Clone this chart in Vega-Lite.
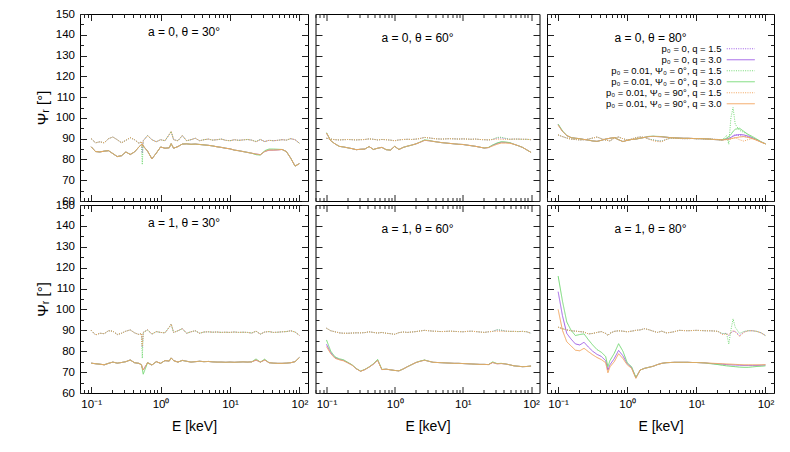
{
"$schema":"https://vega.github.io/schema/vega-lite/v6.json",
"background":"white",
"padding":{"left":34,"top":7,"right":5,"bottom":5},
"bounds":"flush",
"align":"each",
"columns":3,
"spacing":{"row":4,"column":7.5},
"resolve":{"scale":{"color":"independent","strokeDash":"independent"},"legend":{"color":"independent","strokeDash":"independent"}},
"config":{
 "font":"Liberation Sans",
 "view":{"stroke":"#000","strokeWidth":1},
 "axis":{"domain":false,"grid":false,"tickColor":"#222","tickWidth":1,"labelFont":"Liberation Sans","labelFontSize":11.5,"labelColor":"#000","titleFont":"Liberation Sans","titleFontSize":14,"titleFontWeight":"normal","titleColor":"#000","labelPadding":12,"labelOverlap":false,"labelFlush":false},
 "title":{"font":"Liberation Sans","fontSize":12,"fontWeight":"normal","color":"#000","offset":-31,"baseline":"alphabetic","dx":-10,"anchor":"middle","frame":"group"},
 "line":{"strokeWidth":1}
},
"datasets":{
"p1":[
{"E":0.1,"s1":90,"s2":86.1,"s3":90,"s4":86.1,"s5":90,"s6":86.1},
{"E":0.1155,"s1":88,"s2":83.8,"s3":88,"s4":83.8,"s5":88,"s6":83.8},
{"E":0.1334,"s1":88.5,"s2":83.6,"s3":88.5,"s4":83.6,"s5":88.5,"s6":83.6},
{"E":0.154,"s1":88,"s2":84,"s3":88,"s4":84,"s5":88,"s6":84},
{"E":0.1778,"s1":90,"s2":84.2,"s3":90,"s4":84.2,"s5":90,"s6":84.2},
{"E":0.2054,"s1":90.8,"s2":82.8,"s3":90.8,"s4":82.8,"s5":90.8,"s6":82.8},
{"E":0.2371,"s1":89.5,"s2":81.4,"s3":89.5,"s4":81.4,"s5":89.5,"s6":81.4},
{"E":0.2738,"s1":88,"s2":81.8,"s3":88,"s4":81.8,"s5":88,"s6":81.8},
{"E":0.3162,"s1":89.2,"s2":83.6,"s3":89.2,"s4":83.6,"s5":89.2,"s6":83.6},
{"E":0.3652,"s1":90.5,"s2":82.4,"s3":90.5,"s4":82.4,"s5":90.5,"s6":82.4},
{"E":0.4217,"s1":89.5,"s2":83.6,"s3":89.5,"s4":83.6,"s5":89.5,"s6":83.6},
{"E":0.487,"s1":87.8,"s2":86,"s3":87.8,"s4":86,"s5":87.8,"s6":86},
{"E":0.53,"s1":88.5,"s2":87.2,"s3":88.5,"s4":87.2,"s5":88.5,"s6":87.2},
{"E":0.545,"s1":83,"s2":87.4,"s3":77.5,"s4":86.8,"s5":86,"s6":87.4},
{"E":0.5623,"s1":89,"s2":86.5,"s3":89,"s4":86.5,"s5":89,"s6":86.5},
{"E":0.6494,"s1":91.5,"s2":84,"s3":91.5,"s4":84,"s5":91.5,"s6":84},
{"E":0.7499,"s1":89.5,"s2":80.3,"s3":89.5,"s4":80.3,"s5":89.5,"s6":80.3},
{"E":0.866,"s1":88.5,"s2":83,"s3":88.5,"s4":83,"s5":88.5,"s6":83},
{"E":1,"s1":89.5,"s2":86,"s3":89.5,"s4":86,"s5":89.5,"s6":86},
{"E":1.155,"s1":89,"s2":85.4,"s3":89,"s4":85.4,"s5":89,"s6":85.4},
{"E":1.334,"s1":92,"s2":85.6,"s3":92,"s4":85.6,"s5":92,"s6":85.6},
{"E":1.42,"s1":93.5,"s2":87.6,"s3":93.5,"s4":87.6,"s5":93.5,"s6":87.6},
{"E":1.54,"s1":89.5,"s2":85.4,"s3":89.5,"s4":85.4,"s5":89.5,"s6":85.4},
{"E":1.778,"s1":89,"s2":86.2,"s3":89,"s4":86.2,"s5":89,"s6":86.2},
{"E":2.054,"s1":91.5,"s2":87.4,"s3":91.5,"s4":87.4,"s5":91.5,"s6":87.4},
{"E":2.371,"s1":89,"s2":87.5,"s3":89,"s4":87.5,"s5":89,"s6":87.5},
{"E":2.738,"s1":89.5,"s2":87.3,"s3":89.5,"s4":87.3,"s5":89.5,"s6":87.3},
{"E":3.162,"s1":90.2,"s2":87.4,"s3":90.2,"s4":87.4,"s5":90.2,"s6":87.4},
{"E":3.652,"s1":89,"s2":87.2,"s3":89,"s4":87.2,"s5":89,"s6":87.2},
{"E":4.217,"s1":89.5,"s2":87,"s3":89.5,"s4":87,"s5":89.5,"s6":87},
{"E":4.87,"s1":89.8,"s2":86.8,"s3":89.8,"s4":86.8,"s5":89.8,"s6":86.8},
{"E":5.623,"s1":89.3,"s2":86.5,"s3":89.3,"s4":86.5,"s5":89.3,"s6":86.5},
{"E":6.494,"s1":89.5,"s2":86.1,"s3":89.5,"s4":86.1,"s5":89.5,"s6":86.1},
{"E":7.499,"s1":89.8,"s2":85.8,"s3":89.8,"s4":85.8,"s5":89.8,"s6":85.8},
{"E":8.66,"s1":89.2,"s2":85.4,"s3":89.2,"s4":85.4,"s5":89.2,"s6":85.4},
{"E":10,"s1":89,"s2":85.1,"s3":89,"s4":85.1,"s5":89,"s6":85.1},
{"E":11.55,"s1":89.5,"s2":84.5,"s3":89.5,"s4":84.5,"s5":89.5,"s6":84.5},
{"E":13.34,"s1":89.2,"s2":84.2,"s3":89.2,"s4":84.2,"s5":89.2,"s6":84.2},
{"E":15.4,"s1":89.4,"s2":83.8,"s3":89.4,"s4":83.8,"s5":89.4,"s6":83.8},
{"E":17.78,"s1":89.6,"s2":83.4,"s3":89.6,"s4":83.4,"s5":89.6,"s6":83.4},
{"E":20.54,"s1":89.3,"s2":83,"s3":89.3,"s4":83,"s5":89.3,"s6":83},
{"E":23.71,"s1":88.5,"s2":82.6,"s3":88.7,"s4":82.3,"s5":88.5,"s6":82.6},
{"E":27.38,"s1":89.6,"s2":82.3,"s3":89.6,"s4":82.1,"s5":89.6,"s6":82.3},
{"E":31.62,"s1":88.6,"s2":83.8,"s3":88.6,"s4":84.2,"s5":88.6,"s6":83.8},
{"E":36.52,"s1":89.2,"s2":84.5,"s3":89.2,"s4":85,"s5":89.2,"s6":84.5},
{"E":42.17,"s1":89,"s2":84.5,"s3":89,"s4":85,"s5":89,"s6":84.5},
{"E":48.7,"s1":89.2,"s2":84.6,"s3":89.2,"s4":84.9,"s5":89.2,"s6":84.6},
{"E":56.23,"s1":89.5,"s2":84.8,"s3":89.5,"s4":84.8,"s5":89.5,"s6":84.8},
{"E":64.94,"s1":89.3,"s2":83.8,"s3":89.3,"s4":83.8,"s5":89.3,"s6":83.8},
{"E":74.99,"s1":90,"s2":80.6,"s3":90,"s4":80.6,"s5":90,"s6":80.6},
{"E":86.6,"s1":89.5,"s2":76.8,"s3":89.5,"s4":76.8,"s5":89.5,"s6":76.8},
{"E":100,"s1":87.8,"s2":78,"s3":87.8,"s4":78,"s5":87.8,"s6":78}
],
"p2":[
{"E":0.1,"s1":90.2,"s2":92.7,"s3":90.2,"s4":92.9,"s5":90.2,"s6":92.7},
{"E":0.1155,"s1":89.8,"s2":89,"s3":89.8,"s4":89,"s5":89.8,"s6":89},
{"E":0.1334,"s1":89.5,"s2":87.5,"s3":89.5,"s4":87.5,"s5":89.5,"s6":87.5},
{"E":0.154,"s1":89.4,"s2":86.3,"s3":89.4,"s4":86.3,"s5":89.4,"s6":86.3},
{"E":0.1778,"s1":89.5,"s2":86,"s3":89.5,"s4":86,"s5":89.5,"s6":86},
{"E":0.2054,"s1":89.6,"s2":85.6,"s3":89.6,"s4":85.6,"s5":89.6,"s6":85.6},
{"E":0.2371,"s1":89.5,"s2":85.2,"s3":89.5,"s4":85.2,"s5":89.5,"s6":85.2},
{"E":0.2738,"s1":89.4,"s2":84.7,"s3":89.4,"s4":84.7,"s5":89.4,"s6":84.7},
{"E":0.3162,"s1":89.5,"s2":84.9,"s3":89.5,"s4":84.9,"s5":89.5,"s6":84.9},
{"E":0.3652,"s1":89.6,"s2":85,"s3":89.6,"s4":85,"s5":89.6,"s6":85},
{"E":0.4217,"s1":89.9,"s2":86.2,"s3":89.9,"s4":86.2,"s5":89.9,"s6":86.2},
{"E":0.487,"s1":89.7,"s2":84.8,"s3":89.7,"s4":84.8,"s5":89.7,"s6":84.8},
{"E":0.5623,"s1":89.4,"s2":85.4,"s3":89.4,"s4":85.4,"s5":89.4,"s6":85.4},
{"E":0.6494,"s1":89.6,"s2":85.8,"s3":89.6,"s4":85.8,"s5":89.6,"s6":85.8},
{"E":0.7499,"s1":89.5,"s2":84.7,"s3":89.5,"s4":84.7,"s5":89.5,"s6":84.7},
{"E":0.866,"s1":89.3,"s2":84.5,"s3":89.3,"s4":84.5,"s5":89.3,"s6":84.5},
{"E":1,"s1":89,"s2":86.3,"s3":89,"s4":86.3,"s5":89,"s6":86.3},
{"E":1.155,"s1":89.4,"s2":84.8,"s3":89.4,"s4":84.8,"s5":89.4,"s6":84.8},
{"E":1.334,"s1":89.6,"s2":85.8,"s3":89.6,"s4":85.8,"s5":89.6,"s6":85.8},
{"E":1.54,"s1":89.7,"s2":86.4,"s3":89.7,"s4":86.4,"s5":89.7,"s6":86.4},
{"E":1.778,"s1":89.6,"s2":86.9,"s3":89.6,"s4":86.9,"s5":89.6,"s6":86.9},
{"E":2.054,"s1":89.8,"s2":87.5,"s3":89.8,"s4":87.5,"s5":89.8,"s6":87.5},
{"E":2.371,"s1":90.1,"s2":88.3,"s3":90.1,"s4":88.4,"s5":90.1,"s6":88.3},
{"E":2.738,"s1":90.6,"s2":89.2,"s3":90.6,"s4":89.4,"s5":90.6,"s6":89.2},
{"E":3.162,"s1":90.4,"s2":89,"s3":90.4,"s4":89.2,"s5":90.4,"s6":89},
{"E":3.652,"s1":90.1,"s2":88.7,"s3":90.1,"s4":88.7,"s5":90.1,"s6":88.7},
{"E":4.217,"s1":89.9,"s2":88.4,"s3":89.9,"s4":88.4,"s5":89.9,"s6":88.4},
{"E":4.87,"s1":89.8,"s2":88.1,"s3":89.8,"s4":88.1,"s5":89.8,"s6":88.1},
{"E":5.623,"s1":89.9,"s2":87.9,"s3":89.9,"s4":87.9,"s5":89.9,"s6":87.9},
{"E":6.494,"s1":90,"s2":87.7,"s3":90,"s4":87.7,"s5":90,"s6":87.7},
{"E":7.499,"s1":89.9,"s2":87.5,"s3":89.9,"s4":87.5,"s5":89.9,"s6":87.5},
{"E":8.66,"s1":89.8,"s2":87.3,"s3":89.8,"s4":87.3,"s5":89.8,"s6":87.3},
{"E":10,"s1":89.9,"s2":87.2,"s3":89.9,"s4":87.2,"s5":89.9,"s6":87.2},
{"E":11.55,"s1":89.8,"s2":86.9,"s3":89.8,"s4":86.9,"s5":89.8,"s6":86.9},
{"E":13.34,"s1":89.7,"s2":86.6,"s3":89.7,"s4":86.6,"s5":89.7,"s6":86.6},
{"E":15.4,"s1":89.8,"s2":86.3,"s3":89.8,"s4":86.3,"s5":89.8,"s6":86.3},
{"E":17.78,"s1":89.6,"s2":85.9,"s3":89.6,"s4":85.9,"s5":89.6,"s6":85.9},
{"E":20.54,"s1":89.5,"s2":85.5,"s3":89.5,"s4":85.5,"s5":89.5,"s6":85.5},
{"E":23.71,"s1":89.4,"s2":85.7,"s3":89.4,"s4":85.8,"s5":89.4,"s6":85.7},
{"E":27.38,"s1":89.6,"s2":86.8,"s3":89.7,"s4":87,"s5":89.6,"s6":86.5},
{"E":31.62,"s1":90.3,"s2":87.7,"s3":90.6,"s4":87.9,"s5":89.8,"s6":87.3},
{"E":36.52,"s1":90.4,"s2":88.3,"s3":90.7,"s4":88.5,"s5":89.7,"s6":87.9},
{"E":42.17,"s1":90,"s2":88.2,"s3":90.2,"s4":88.4,"s5":89.6,"s6":87.9},
{"E":48.7,"s1":89.7,"s2":88,"s3":89.7,"s4":88.1,"s5":89.7,"s6":87.8},
{"E":56.23,"s1":89.8,"s2":87.3,"s3":89.8,"s4":87.3,"s5":89.8,"s6":87.3},
{"E":64.94,"s1":89.8,"s2":86.6,"s3":89.8,"s4":86.6,"s5":89.8,"s6":86.6},
{"E":74.99,"s1":89.7,"s2":85.8,"s3":89.7,"s4":85.8,"s5":89.7,"s6":85.8},
{"E":86.6,"s1":89.7,"s2":84.6,"s3":89.7,"s4":84.6,"s5":89.7,"s6":84.6},
{"E":100,"s1":89.5,"s2":83.4,"s3":89.5,"s4":83.4,"s5":89.5,"s6":83.4}
],
"p3":[
{"E":0.1,"s1":91.8,"s2":96.8,"s3":91.8,"s4":97,"s5":91.8,"s6":96.5},
{"E":0.1155,"s1":91,"s2":93.5,"s3":91,"s4":93.8,"s5":91,"s6":93.5},
{"E":0.1334,"s1":90.3,"s2":91.5,"s3":90.3,"s4":91.5,"s5":90.3,"s6":91.5},
{"E":0.154,"s1":89.8,"s2":90.5,"s3":89.8,"s4":90.5,"s5":89.8,"s6":90.5},
{"E":0.1778,"s1":89.6,"s2":90.2,"s3":89.6,"s4":90.2,"s5":89.6,"s6":90.2},
{"E":0.2054,"s1":89.4,"s2":90,"s3":89.4,"s4":90,"s5":89.4,"s6":90},
{"E":0.2371,"s1":89.5,"s2":89.6,"s3":89.5,"s4":89.6,"s5":89.5,"s6":89.6},
{"E":0.2738,"s1":89.8,"s2":89.3,"s3":89.8,"s4":89.3,"s5":89.8,"s6":89.3},
{"E":0.3162,"s1":90.3,"s2":88.9,"s3":90.3,"s4":88.9,"s5":90.3,"s6":88.9},
{"E":0.3652,"s1":90.8,"s2":88.7,"s3":90.8,"s4":88.7,"s5":90.8,"s6":88.7},
{"E":0.4217,"s1":90,"s2":89.2,"s3":90,"s4":89.2,"s5":90,"s6":89.2},
{"E":0.487,"s1":89.3,"s2":89.8,"s3":89.3,"s4":89.8,"s5":89.3,"s6":89.8},
{"E":0.5623,"s1":88.9,"s2":90.2,"s3":88.9,"s4":90.2,"s5":88.9,"s6":90.2},
{"E":0.6494,"s1":90.3,"s2":90.5,"s3":90.3,"s4":90.5,"s5":90.3,"s6":90.5},
{"E":0.7499,"s1":90.8,"s2":89.5,"s3":90.8,"s4":89.5,"s5":90.8,"s6":89.5},
{"E":0.866,"s1":90,"s2":88.6,"s3":90,"s4":88.6,"s5":90,"s6":88.6},
{"E":1,"s1":89.3,"s2":89.2,"s3":89.3,"s4":89.2,"s5":89.3,"s6":89.2},
{"E":1.155,"s1":89.8,"s2":89.6,"s3":89.8,"s4":89.6,"s5":89.8,"s6":89.6},
{"E":1.334,"s1":90.5,"s2":89.8,"s3":90.5,"s4":89.8,"s5":90.5,"s6":89.8},
{"E":1.54,"s1":90.8,"s2":90.2,"s3":90.8,"s4":90.2,"s5":90.8,"s6":90.2},
{"E":1.778,"s1":90.6,"s2":90.6,"s3":90.6,"s4":90.6,"s5":90.6,"s6":90.6},
{"E":2.054,"s1":89.8,"s2":91,"s3":89.8,"s4":91.1,"s5":89.8,"s6":91},
{"E":2.371,"s1":89.4,"s2":91.1,"s3":89.4,"s4":91.2,"s5":89,"s6":91.1},
{"E":2.738,"s1":89,"s2":91,"s3":89,"s4":91.1,"s5":88.6,"s6":91},
{"E":3.162,"s1":88.8,"s2":90.9,"s3":88.8,"s4":91,"s5":88.5,"s6":90.9},
{"E":3.652,"s1":89.6,"s2":90.7,"s3":89.6,"s4":90.7,"s5":89.6,"s6":90.7},
{"E":4.217,"s1":90.3,"s2":90.5,"s3":90.3,"s4":90.5,"s5":90.3,"s6":90.5},
{"E":4.87,"s1":90.2,"s2":90.4,"s3":90.2,"s4":90.4,"s5":90.2,"s6":90.4},
{"E":5.623,"s1":90.1,"s2":90.3,"s3":90.1,"s4":90.3,"s5":90.1,"s6":90.3},
{"E":6.494,"s1":90,"s2":90.2,"s3":90,"s4":90.2,"s5":90,"s6":90.2},
{"E":7.499,"s1":90,"s2":90.2,"s3":90,"s4":90.2,"s5":90,"s6":90.2},
{"E":8.66,"s1":90.1,"s2":90.1,"s3":90.1,"s4":90.1,"s5":90.1,"s6":90.1},
{"E":10,"s1":90,"s2":90,"s3":90,"s4":90,"s5":90,"s6":90},
{"E":11.55,"s1":90,"s2":90,"s3":90,"s4":90,"s5":90,"s6":90},
{"E":13.34,"s1":89.9,"s2":89.9,"s3":89.9,"s4":89.9,"s5":89.9,"s6":89.9},
{"E":15.4,"s1":89.8,"s2":89.8,"s3":89.8,"s4":89.8,"s5":89.8,"s6":89.8},
{"E":17.78,"s1":89.7,"s2":89.6,"s3":89.7,"s4":89.6,"s5":89.7,"s6":89.6},
{"E":20.54,"s1":89.6,"s2":89.5,"s3":89.6,"s4":89.5,"s5":89.6,"s6":89.5},
{"E":23.71,"s1":89.4,"s2":89.4,"s3":89.4,"s4":89.4,"s5":89.4,"s6":89.4},
{"E":27.38,"s1":89.8,"s2":89.8,"s3":91.5,"s4":90.2,"s5":89.5,"s6":89.6},
{"E":29.5,"s1":89.8,"s2":90.2,"s3":87.3,"s4":91,"s5":89.5,"s6":89.8},
{"E":31.62,"s1":90.5,"s2":90.6,"s3":100,"s4":92,"s5":89.8,"s6":90},
{"E":34,"s1":91.5,"s2":91.2,"s3":105,"s4":93.5,"s5":90.3,"s6":90.2},
{"E":36.52,"s1":92,"s2":91.6,"s3":97,"s4":94.5,"s5":90.5,"s6":90.4},
{"E":42.17,"s1":91.5,"s2":92,"s3":94,"s4":95,"s5":89.5,"s6":90.8},
{"E":48.7,"s1":91,"s2":91.8,"s3":93,"s4":93.5,"s5":88.8,"s6":91},
{"E":56.23,"s1":90.8,"s2":91.2,"s3":92,"s4":92,"s5":89.6,"s6":90.6},
{"E":64.94,"s1":90.2,"s2":90.4,"s3":90.5,"s4":91,"s5":90,"s6":90},
{"E":74.99,"s1":89.5,"s2":89.5,"s3":89.5,"s4":89.8,"s5":89.3,"s6":89.2},
{"E":86.6,"s1":88.5,"s2":88.4,"s3":88.5,"s4":88.5,"s5":88.4,"s6":88.3},
{"E":100,"s1":87.5,"s2":87.5,"s3":87.5,"s4":87.5,"s5":87.5,"s6":87.5}
],
"p4":[
{"E":0.1,"s1":90,"s2":74.3,"s3":90,"s4":74.3,"s5":90,"s6":74.3},
{"E":0.1155,"s1":87.8,"s2":74,"s3":87.8,"s4":74,"s5":87.8,"s6":74},
{"E":0.1334,"s1":88.6,"s2":73.8,"s3":88.6,"s4":73.8,"s5":88.6,"s6":73.8},
{"E":0.154,"s1":88.4,"s2":73.5,"s3":88.4,"s4":73.5,"s5":88.4,"s6":73.5},
{"E":0.1778,"s1":89.8,"s2":74.2,"s3":89.8,"s4":74.2,"s5":89.8,"s6":74.2},
{"E":0.2054,"s1":89.6,"s2":74.8,"s3":89.6,"s4":74.8,"s5":89.6,"s6":74.8},
{"E":0.2371,"s1":88,"s2":74.3,"s3":88,"s4":74.3,"s5":88,"s6":74.3},
{"E":0.2738,"s1":88.6,"s2":74.6,"s3":88.6,"s4":74.6,"s5":88.6,"s6":74.6},
{"E":0.3162,"s1":89.6,"s2":75,"s3":89.6,"s4":75,"s5":89.6,"s6":75},
{"E":0.3652,"s1":90.2,"s2":75.8,"s3":90.2,"s4":75.8,"s5":90.2,"s6":75.8},
{"E":0.4217,"s1":88.8,"s2":74.5,"s3":88.8,"s4":74.5,"s5":88.8,"s6":74.5},
{"E":0.487,"s1":88,"s2":74.2,"s3":88,"s4":74.2,"s5":88,"s6":74.2},
{"E":0.53,"s1":88.5,"s2":73.5,"s3":88.5,"s4":73.5,"s5":88.5,"s6":73.5},
{"E":0.545,"s1":82,"s2":72,"s3":76.6,"s4":71.5,"s5":82.5,"s6":72},
{"E":0.5623,"s1":89,"s2":71,"s3":89,"s4":69,"s5":89,"s6":71},
{"E":0.6494,"s1":90.2,"s2":74.5,"s3":90.2,"s4":74.5,"s5":90.2,"s6":74.5},
{"E":0.7499,"s1":88.2,"s2":73.4,"s3":88.2,"s4":73.4,"s5":88.2,"s6":73.4},
{"E":0.866,"s1":89.4,"s2":75,"s3":89.4,"s4":75,"s5":89.4,"s6":75},
{"E":1,"s1":89,"s2":74.2,"s3":89,"s4":74.2,"s5":89,"s6":74.2},
{"E":1.155,"s1":88.8,"s2":75.5,"s3":88.8,"s4":75.5,"s5":88.8,"s6":75.5},
{"E":1.334,"s1":91.5,"s2":75.3,"s3":91.5,"s4":75.3,"s5":91.5,"s6":75.3},
{"E":1.42,"s1":93,"s2":76.8,"s3":93,"s4":76.8,"s5":93,"s6":76.8},
{"E":1.54,"s1":89,"s2":75.5,"s3":89,"s4":75.5,"s5":89,"s6":75.5},
{"E":1.778,"s1":89.8,"s2":74.8,"s3":89.8,"s4":74.8,"s5":89.8,"s6":74.8},
{"E":2.054,"s1":90.8,"s2":75.6,"s3":90.8,"s4":75.6,"s5":90.8,"s6":75.6},
{"E":2.371,"s1":88.6,"s2":75.2,"s3":88.6,"s4":75.2,"s5":88.6,"s6":75.2},
{"E":2.738,"s1":89.3,"s2":74.8,"s3":89.3,"s4":74.8,"s5":89.3,"s6":74.8},
{"E":3.162,"s1":89.8,"s2":75,"s3":89.8,"s4":75,"s5":89.8,"s6":75},
{"E":3.652,"s1":88.6,"s2":75.2,"s3":88.6,"s4":75.2,"s5":88.6,"s6":75.2},
{"E":4.217,"s1":89.2,"s2":75,"s3":89.2,"s4":75,"s5":89.2,"s6":75},
{"E":4.87,"s1":89.3,"s2":75.1,"s3":89.3,"s4":75.1,"s5":89.3,"s6":75.1},
{"E":5.623,"s1":89.1,"s2":74.9,"s3":89.1,"s4":74.9,"s5":89.1,"s6":74.9},
{"E":6.494,"s1":89.2,"s2":74.8,"s3":89.2,"s4":74.8,"s5":89.2,"s6":74.8},
{"E":7.499,"s1":89,"s2":74.8,"s3":89,"s4":74.8,"s5":89,"s6":74.8},
{"E":8.66,"s1":89.1,"s2":74.7,"s3":89.1,"s4":74.7,"s5":89.1,"s6":74.7},
{"E":10,"s1":89,"s2":74.8,"s3":89,"s4":74.8,"s5":89,"s6":74.8},
{"E":11.55,"s1":89.2,"s2":74.7,"s3":89.2,"s4":74.7,"s5":89.2,"s6":74.7},
{"E":13.34,"s1":89,"s2":74.8,"s3":89,"s4":74.8,"s5":89,"s6":74.8},
{"E":15.4,"s1":89.1,"s2":74.9,"s3":89.1,"s4":74.9,"s5":89.1,"s6":74.9},
{"E":17.78,"s1":89,"s2":74.8,"s3":89,"s4":74.8,"s5":89,"s6":74.8},
{"E":20.54,"s1":88.7,"s2":74.9,"s3":88.7,"s4":74.9,"s5":88.7,"s6":74.9},
{"E":23.71,"s1":89.6,"s2":75.8,"s3":89.6,"s4":76.3,"s5":89.6,"s6":75.8},
{"E":27.38,"s1":88.2,"s2":74.8,"s3":88.2,"s4":74.8,"s5":88.2,"s6":74.8},
{"E":31.62,"s1":89.2,"s2":75.8,"s3":89.2,"s4":76.2,"s5":89.2,"s6":75.8},
{"E":36.52,"s1":89.4,"s2":74.5,"s3":89.4,"s4":74.5,"s5":89.4,"s6":74.5},
{"E":42.17,"s1":89,"s2":74.3,"s3":89,"s4":74.3,"s5":89,"s6":74.3},
{"E":48.7,"s1":89.1,"s2":74.2,"s3":89.1,"s4":74.2,"s5":89.1,"s6":74.2},
{"E":56.23,"s1":89.3,"s2":74.2,"s3":89.3,"s4":74.2,"s5":89.3,"s6":74.2},
{"E":64.94,"s1":89.4,"s2":74.3,"s3":89.4,"s4":74.3,"s5":89.4,"s6":74.3},
{"E":74.99,"s1":89.8,"s2":74.5,"s3":89.8,"s4":74.5,"s5":89.8,"s6":74.5},
{"E":86.6,"s1":89.2,"s2":75,"s3":89.2,"s4":75,"s5":89.2,"s6":75},
{"E":100,"s1":87.6,"s2":77,"s3":87.6,"s4":77,"s5":87.6,"s6":77}
],
"p5":[
{"E":0.1,"s1":91,"s2":83.3,"s3":91,"s4":85.4,"s5":91,"s6":82.2},
{"E":0.1155,"s1":89.8,"s2":79.3,"s3":89.8,"s4":80,"s5":89.8,"s6":78.8},
{"E":0.1334,"s1":89.3,"s2":76.9,"s3":89.3,"s4":77.3,"s5":89.3,"s6":76.6},
{"E":0.154,"s1":88.8,"s2":76.1,"s3":88.8,"s4":76.4,"s5":88.8,"s6":75.9},
{"E":0.1778,"s1":88.6,"s2":75.6,"s3":88.6,"s4":75.9,"s5":88.6,"s6":75.4},
{"E":0.2054,"s1":88.6,"s2":74.5,"s3":88.6,"s4":74.7,"s5":88.6,"s6":74.4},
{"E":0.2371,"s1":88.7,"s2":73.4,"s3":88.7,"s4":73.5,"s5":88.7,"s6":73.3},
{"E":0.2738,"s1":88.8,"s2":71.6,"s3":88.8,"s4":71.7,"s5":88.8,"s6":71.6},
{"E":0.3162,"s1":88.8,"s2":70.4,"s3":88.8,"s4":70.5,"s5":88.8,"s6":70.4},
{"E":0.3652,"s1":88.9,"s2":71.2,"s3":88.9,"s4":71.3,"s5":88.9,"s6":71.2},
{"E":0.4217,"s1":89.3,"s2":72.4,"s3":89.3,"s4":72.5,"s5":89.3,"s6":72.4},
{"E":0.487,"s1":89,"s2":73.8,"s3":89,"s4":74,"s5":89,"s6":73.8},
{"E":0.5623,"s1":88.7,"s2":75.7,"s3":88.7,"s4":76.1,"s5":88.7,"s6":75.6},
{"E":0.6494,"s1":89,"s2":71.2,"s3":89,"s4":71.3,"s5":89,"s6":71.2},
{"E":0.7499,"s1":88.6,"s2":71.4,"s3":88.6,"s4":71.4,"s5":88.6,"s6":71.4},
{"E":0.866,"s1":88.4,"s2":71.1,"s3":88.4,"s4":71.1,"s5":88.4,"s6":71.1},
{"E":1,"s1":88.1,"s2":70.8,"s3":88.1,"s4":70.8,"s5":88.1,"s6":70.8},
{"E":1.155,"s1":88.9,"s2":70.6,"s3":88.9,"s4":70.6,"s5":88.9,"s6":70.6},
{"E":1.334,"s1":89.2,"s2":71.5,"s3":89.2,"s4":71.5,"s5":89.2,"s6":71.5},
{"E":1.54,"s1":89,"s2":72.6,"s3":89,"s4":72.6,"s5":89,"s6":72.6},
{"E":1.778,"s1":89.2,"s2":73.6,"s3":89.2,"s4":73.6,"s5":89.2,"s6":73.6},
{"E":2.054,"s1":89.4,"s2":74.6,"s3":89.4,"s4":74.6,"s5":89.4,"s6":74.6},
{"E":2.371,"s1":89.7,"s2":75.2,"s3":89.7,"s4":75.3,"s5":89.7,"s6":75.2},
{"E":2.738,"s1":90,"s2":75.7,"s3":90,"s4":75.8,"s5":90,"s6":75.7},
{"E":3.162,"s1":89.8,"s2":75.2,"s3":89.8,"s4":75.2,"s5":89.8,"s6":75.2},
{"E":3.652,"s1":89.6,"s2":74.7,"s3":89.6,"s4":74.7,"s5":89.6,"s6":74.7},
{"E":4.217,"s1":89.5,"s2":74.6,"s3":89.5,"s4":74.6,"s5":89.5,"s6":74.6},
{"E":4.87,"s1":89.4,"s2":74.5,"s3":89.4,"s4":74.5,"s5":89.4,"s6":74.5},
{"E":5.623,"s1":89.5,"s2":74.4,"s3":89.5,"s4":74.4,"s5":89.5,"s6":74.4},
{"E":6.494,"s1":89.6,"s2":74.3,"s3":89.6,"s4":74.3,"s5":89.6,"s6":74.3},
{"E":7.499,"s1":89.5,"s2":74.2,"s3":89.5,"s4":74.2,"s5":89.5,"s6":74.2},
{"E":8.66,"s1":89.4,"s2":74.2,"s3":89.4,"s4":74.2,"s5":89.4,"s6":74.2},
{"E":10,"s1":89.3,"s2":74.1,"s3":89.3,"s4":74.1,"s5":89.3,"s6":74.1},
{"E":11.55,"s1":89.5,"s2":74,"s3":89.5,"s4":74,"s5":89.5,"s6":74},
{"E":13.34,"s1":89.6,"s2":73.9,"s3":89.6,"s4":73.9,"s5":89.6,"s6":73.9},
{"E":15.4,"s1":89.4,"s2":73.8,"s3":89.4,"s4":73.8,"s5":89.4,"s6":73.8},
{"E":17.78,"s1":89.2,"s2":73.7,"s3":89.2,"s4":73.7,"s5":89.2,"s6":73.7},
{"E":20.54,"s1":89,"s2":73.7,"s3":89,"s4":73.7,"s5":89,"s6":73.7},
{"E":23.71,"s1":89.3,"s2":73.6,"s3":89.3,"s4":73.6,"s5":89.3,"s6":73.6},
{"E":27.38,"s1":89.5,"s2":74.6,"s3":89.5,"s4":74.9,"s5":89.5,"s6":74.6},
{"E":31.62,"s1":90.2,"s2":74,"s3":90.3,"s4":74.1,"s5":89.6,"s6":74},
{"E":36.52,"s1":90,"s2":74.1,"s3":90.1,"s4":74.2,"s5":89.5,"s6":74.1},
{"E":42.17,"s1":89.6,"s2":73.9,"s3":89.6,"s4":73.9,"s5":89.6,"s6":73.9},
{"E":48.7,"s1":89.5,"s2":73.5,"s3":89.5,"s4":73.5,"s5":89.5,"s6":73.5},
{"E":56.23,"s1":89.5,"s2":73,"s3":89.5,"s4":73,"s5":89.5,"s6":73},
{"E":64.94,"s1":89.4,"s2":72.8,"s3":89.4,"s4":72.8,"s5":89.4,"s6":72.8},
{"E":74.99,"s1":89.5,"s2":72.6,"s3":89.5,"s4":72.6,"s5":89.5,"s6":72.6},
{"E":86.6,"s1":89.3,"s2":72.7,"s3":89.3,"s4":72.7,"s5":89.3,"s6":72.7},
{"E":100,"s1":88.6,"s2":72.9,"s3":88.6,"s4":72.9,"s5":88.6,"s6":72.9}
],
"p6":[
{"E":0.1,"s1":91.5,"s2":108.5,"s3":91.5,"s4":116,"s5":91.5,"s6":100},
{"E":0.1155,"s1":90.8,"s2":97,"s3":90.8,"s4":104,"s5":90.8,"s6":90},
{"E":0.1334,"s1":90.2,"s2":88.5,"s3":90.2,"s4":94,"s5":90.2,"s6":84.5},
{"E":0.154,"s1":89.8,"s2":85.8,"s3":89.8,"s4":90,"s5":89.8,"s6":82.5},
{"E":0.1778,"s1":89.6,"s2":83.5,"s3":89.6,"s4":87.5,"s5":89.6,"s6":80.5},
{"E":0.2054,"s1":89.4,"s2":83,"s3":89.4,"s4":88,"s5":89.4,"s6":80.2},
{"E":0.2371,"s1":89.2,"s2":84.3,"s3":89.2,"s4":88.3,"s5":89.2,"s6":81.4},
{"E":0.2738,"s1":88.3,"s2":82,"s3":88.3,"s4":85.5,"s5":88.3,"s6":79.8},
{"E":0.3162,"s1":88.5,"s2":80,"s3":88.5,"s4":83,"s5":88.5,"s6":78.3},
{"E":0.3652,"s1":89,"s2":78.5,"s3":89,"s4":80.8,"s5":89,"s6":77},
{"E":0.4217,"s1":89.4,"s2":77.5,"s3":89.4,"s4":79.5,"s5":89.4,"s6":76},
{"E":0.487,"s1":88.5,"s2":75.5,"s3":88.5,"s4":77.5,"s5":88.5,"s6":74.5},
{"E":0.525,"s1":87.6,"s2":71,"s3":87.6,"s4":72.6,"s5":87.6,"s6":69.7},
{"E":0.5623,"s1":88.6,"s2":73.5,"s3":88.6,"s4":75.5,"s5":88.6,"s6":72.5},
{"E":0.6494,"s1":89.5,"s2":76.5,"s3":89.5,"s4":79,"s5":89.5,"s6":75},
{"E":0.7499,"s1":89.8,"s2":80.4,"s3":89.8,"s4":83.6,"s5":89.8,"s6":78.8},
{"E":0.866,"s1":89.6,"s2":77.8,"s3":89.6,"s4":80,"s5":89.6,"s6":76.5},
{"E":1,"s1":89.3,"s2":74,"s3":89.3,"s4":74.5,"s5":89.3,"s6":73.5},
{"E":1.155,"s1":89.6,"s2":72.2,"s3":89.6,"s4":72.6,"s5":89.6,"s6":71.8},
{"E":1.334,"s1":90,"s2":67.3,"s3":90,"s4":67.5,"s5":90,"s6":67},
{"E":1.54,"s1":90.2,"s2":71,"s3":90.2,"s4":71,"s5":90.2,"s6":71},
{"E":1.778,"s1":90.8,"s2":71.8,"s3":90.8,"s4":71.8,"s5":90.8,"s6":71.8},
{"E":2.054,"s1":90.3,"s2":72.3,"s3":90.3,"s4":72.3,"s5":90.3,"s6":72.3},
{"E":2.371,"s1":89.6,"s2":72.8,"s3":89.6,"s4":72.8,"s5":89.6,"s6":72.8},
{"E":2.738,"s1":89,"s2":73.6,"s3":89,"s4":73.6,"s5":89,"s6":73.6},
{"E":3.162,"s1":89.6,"s2":74.2,"s3":89.6,"s4":74.2,"s5":89.6,"s6":74.2},
{"E":3.652,"s1":88.8,"s2":74.5,"s3":88.8,"s4":74.5,"s5":88.8,"s6":74.5},
{"E":4.217,"s1":89,"s2":74.6,"s3":89,"s4":74.6,"s5":89,"s6":74.6},
{"E":4.87,"s1":89.4,"s2":74.7,"s3":89.4,"s4":74.7,"s5":89.4,"s6":74.7},
{"E":5.623,"s1":90,"s2":74.7,"s3":90,"s4":74.7,"s5":90,"s6":74.7},
{"E":6.494,"s1":89.9,"s2":74.7,"s3":89.9,"s4":74.7,"s5":89.9,"s6":74.7},
{"E":7.499,"s1":89.8,"s2":74.7,"s3":89.8,"s4":74.7,"s5":89.8,"s6":74.7},
{"E":8.66,"s1":89.9,"s2":74.6,"s3":89.9,"s4":74.6,"s5":89.9,"s6":74.6},
{"E":10,"s1":90,"s2":74.6,"s3":90,"s4":74.6,"s5":90,"s6":74.6},
{"E":11.55,"s1":89.9,"s2":74.5,"s3":89.9,"s4":74.5,"s5":89.9,"s6":74.5},
{"E":13.34,"s1":89.8,"s2":74.4,"s3":89.8,"s4":74.4,"s5":89.8,"s6":74.4},
{"E":15.4,"s1":89.8,"s2":74.2,"s3":89.8,"s4":74.1,"s5":89.8,"s6":74.3},
{"E":17.78,"s1":89.7,"s2":74,"s3":89.7,"s4":73.9,"s5":89.7,"s6":74.2},
{"E":20.54,"s1":89.5,"s2":73.9,"s3":89.5,"s4":73.6,"s5":89.5,"s6":74.1},
{"E":23.71,"s1":88.3,"s2":73.8,"s3":88.5,"s4":73.3,"s5":88,"s6":74},
{"E":27.38,"s1":88.6,"s2":73.6,"s3":88.5,"s4":73,"s5":88.2,"s6":73.9},
{"E":29.5,"s1":87.5,"s2":73.5,"s3":83.5,"s4":72.9,"s5":88,"s6":73.85},
{"E":31.62,"s1":88.8,"s2":73.5,"s3":90,"s4":72.8,"s5":88.8,"s6":73.8},
{"E":34,"s1":89.5,"s2":73.4,"s3":95.5,"s4":72.7,"s5":90,"s6":73.75},
{"E":36.52,"s1":89.5,"s2":73.4,"s3":91.5,"s4":72.6,"s5":89.3,"s6":73.7},
{"E":42.17,"s1":87.5,"s2":73.3,"s3":88.5,"s4":72.4,"s5":87,"s6":73.6},
{"E":48.7,"s1":89.2,"s2":73.2,"s3":89.5,"s4":72.3,"s5":89,"s6":73.5},
{"E":56.23,"s1":89.8,"s2":73.2,"s3":89.8,"s4":72.3,"s5":89.8,"s6":73.5},
{"E":64.94,"s1":89.8,"s2":73.2,"s3":89.8,"s4":72.5,"s5":89.8,"s6":73.5},
{"E":74.99,"s1":89.5,"s2":73.2,"s3":89.5,"s4":72.7,"s5":89.5,"s6":73.5},
{"E":86.6,"s1":88.8,"s2":73.3,"s3":88.8,"s4":72.8,"s5":88.8,"s6":73.5},
{"E":100,"s1":87.5,"s2":73.4,"s3":87.5,"s4":73,"s5":87.5,"s6":73.6}
]
},
"concat":[
{"width":228,"height":187,"title":{"text":"a = 0, θ = 30°","fontWeight":"normal"},"data":{"name":"p1"},
 "transform":[{"fold":["s1","s2","s3","s4","s5","s6"],"as":["series","psi"]}],
 "layer":[
  {"mark":{"type":"line","clip":true},
   "encoding":{
    "x":{"field":"E","type":"quantitative","scale":{"type":"log","domain":[0.069,133],"nice":false},
      "axis":{"orient":"bottom","values":[0.07,0.08,0.09,0.1,0.2,0.3,0.4,0.5,0.6,0.7,0.8,0.9,1,2,3,4,5,6,7,8,9,10,20,30,40,50,60,70,80,90,100],"tickSize":{"condition":{"test":"datum.value==0.1||datum.value==1||datum.value==10||datum.value==100","value":-6.5},"value":-3.5},"labels":false,"title":null}},
    "y":{"field":"psi","type":"quantitative","scale":{"domain":[60,150],"nice":false,"zero":false},
      "axis":{"orient":"left","values":[60,65,70,75,80,85,90,95,100,105,110,115,120,125,130,135,140,145,150],"tickSize":{"condition":{"test":"datum.value % 10 === 0","value":-6.5},"value":-3.5},"labelExpr":"datum.value % 10 === 0 ? datum.label : ''","title":"Ψᵣ [°]","titleFontSize":15,"titlePadding":5}},
    "color":{"field":"series","type":"nominal","scale":{"domain":["s1","s2","s3","s4","s5","s6"],"range":["#9f5fe6","#9f5fe6","#76d976","#76d976","#f2a55e","#f2a55e"]},"legend":null},
    "strokeDash":{"field":"series","type":"nominal","scale":{"domain":["s1","s2","s3","s4","s5","s6"],"range":[[1,1.3],[1,0],[1,1.3],[1,0],[1,1.3],[1,0]]},"legend":null}
   }},
  {"mark":{"type":"line","opacity":0},
   "encoding":{
    "x":{"field":"E","type":"quantitative","axis":{"orient":"top","values":[0.07,0.08,0.09,0.1,0.2,0.3,0.4,0.5,0.6,0.7,0.8,0.9,1,2,3,4,5,6,7,8,9,10,20,30,40,50,60,70,80,90,100],"tickSize":{"condition":{"test":"datum.value==0.1||datum.value==1||datum.value==10||datum.value==100","value":-6.5},"value":-3.5},"labels":false,"title":null}},
    "y":{"field":"psi","type":"quantitative","axis":{"orient":"right","values":[60,65,70,75,80,85,90,95,100,105,110,115,120,125,130,135,140,145,150],"tickSize":{"condition":{"test":"datum.value % 10 === 0","value":-6.5},"value":-3.5},"labels":false,"title":null}}
   }}
 ],
 "resolve":{"axis":{"x":"independent","y":"independent"}}
},
{"width":224,"height":187,"title":{"text":"a = 0, θ = 60°","fontWeight":"normal"},"data":{"name":"p2"},
 "transform":[{"fold":["s1","s2","s3","s4","s5","s6"],"as":["series","psi"]}],
 "layer":[
  {"mark":{"type":"line","clip":true},
   "encoding":{
    "x":{"field":"E","type":"quantitative","scale":{"type":"log","domain":[0.069,133],"nice":false},
      "axis":{"orient":"bottom","values":[0.07,0.08,0.09,0.1,0.2,0.3,0.4,0.5,0.6,0.7,0.8,0.9,1,2,3,4,5,6,7,8,9,10,20,30,40,50,60,70,80,90,100],"tickSize":{"condition":{"test":"datum.value==0.1||datum.value==1||datum.value==10||datum.value==100","value":-6.5},"value":-3.5},"labels":false,"title":null}},
    "y":{"field":"psi","type":"quantitative","scale":{"domain":[60,150],"nice":false,"zero":false},
      "axis":{"orient":"left","values":[60,65,70,75,80,85,90,95,100,105,110,115,120,125,130,135,140,145,150],"tickSize":{"condition":{"test":"datum.value % 10 === 0","value":-6.5},"value":-3.5},"labels":false,"title":null}},
    "color":{"field":"series","type":"nominal","scale":{"domain":["s1","s2","s3","s4","s5","s6"],"range":["#9f5fe6","#9f5fe6","#76d976","#76d976","#f2a55e","#f2a55e"]},"legend":null},
    "strokeDash":{"field":"series","type":"nominal","scale":{"domain":["s1","s2","s3","s4","s5","s6"],"range":[[1,1.3],[1,0],[1,1.3],[1,0],[1,1.3],[1,0]]},"legend":null}
   }},
  {"mark":{"type":"line","opacity":0},
   "encoding":{
    "x":{"field":"E","type":"quantitative","axis":{"orient":"top","values":[0.07,0.08,0.09,0.1,0.2,0.3,0.4,0.5,0.6,0.7,0.8,0.9,1,2,3,4,5,6,7,8,9,10,20,30,40,50,60,70,80,90,100],"tickSize":{"condition":{"test":"datum.value==0.1||datum.value==1||datum.value==10||datum.value==100","value":-6.5},"value":-3.5},"labels":false,"title":null}},
    "y":{"field":"psi","type":"quantitative","axis":{"orient":"right","values":[60,65,70,75,80,85,90,95,100,105,110,115,120,125,130,135,140,145,150],"tickSize":{"condition":{"test":"datum.value % 10 === 0","value":-6.5},"value":-3.5},"labels":false,"title":null}}
   }}
 ],
 "resolve":{"axis":{"x":"independent","y":"independent"}}
},
{"width":227,"height":187,"title":{"text":"a = 0, θ = 80°","fontWeight":"normal"},"data":{"name":"p3"},
 "transform":[{"fold":["s1","s2","s3","s4","s5","s6"],"as":["series","psi"]}],
 "layer":[
  {"mark":{"type":"line","clip":true},
   "encoding":{
    "x":{"field":"E","type":"quantitative","scale":{"type":"log","domain":[0.069,133],"nice":false},
      "axis":{"orient":"bottom","values":[0.07,0.08,0.09,0.1,0.2,0.3,0.4,0.5,0.6,0.7,0.8,0.9,1,2,3,4,5,6,7,8,9,10,20,30,40,50,60,70,80,90,100],"tickSize":{"condition":{"test":"datum.value==0.1||datum.value==1||datum.value==10||datum.value==100","value":-6.5},"value":-3.5},"labels":false,"title":null}},
    "y":{"field":"psi","type":"quantitative","scale":{"domain":[60,150],"nice":false,"zero":false},
      "axis":{"orient":"left","values":[60,65,70,75,80,85,90,95,100,105,110,115,120,125,130,135,140,145,150],"tickSize":{"condition":{"test":"datum.value % 10 === 0","value":-6.5},"value":-3.5},"labels":false,"title":null}},
    "color":{"field":"series","type":"nominal","scale":{"domain":["s1","s2","s3","s4","s5","s6"],"range":["#9f5fe6","#9f5fe6","#76d976","#76d976","#f2a55e","#f2a55e"]},
      "legend":{"title":null,"orient":"none","legendX":189,"legendY":30,"symbolType":"M-3.5,0L3.5,0","symbolSize":64,"symbolStrokeWidth":1,"labelAlign":"right","labelOffset":-24,"labelFontSize":9.5,"labelFont":"Liberation Sans","labelColor":"#000","labelLimit":400,"rowPadding":0,"padding":0,
      "labelExpr":"datum.label == 's1' ? 'p₀ = 0, q = 1.5' : datum.label == 's2' ? 'p₀ = 0, q = 3.0' : datum.label == 's3' ? 'p₀ = 0.01, Ψ₀ = 0°, q = 1.5' : datum.label == 's4' ? 'p₀ = 0.01, Ψ₀ = 0°, q = 3.0' : datum.label == 's5' ? 'p₀ = 0.01, Ψ₀ = 90°, q = 1.5' : 'p₀ = 0.01, Ψ₀ = 90°, q = 3.0'"}},
    "strokeDash":{"field":"series","type":"nominal","scale":{"domain":["s1","s2","s3","s4","s5","s6"],"range":[[1,1.3],[1,0],[1,1.3],[1,0],[1,1.3],[1,0]]},
      "legend":{"title":null,"orient":"none","legendX":189,"legendY":30,"symbolType":"M-3.5,0L3.5,0","symbolSize":64,"symbolStrokeWidth":1,"labelAlign":"right","labelOffset":-24,"labelFontSize":9.5,"labelFont":"Liberation Sans","labelColor":"#000","labelLimit":400,"rowPadding":0,"padding":0,
      "labelExpr":"datum.label == 's1' ? 'p₀ = 0, q = 1.5' : datum.label == 's2' ? 'p₀ = 0, q = 3.0' : datum.label == 's3' ? 'p₀ = 0.01, Ψ₀ = 0°, q = 1.5' : datum.label == 's4' ? 'p₀ = 0.01, Ψ₀ = 0°, q = 3.0' : datum.label == 's5' ? 'p₀ = 0.01, Ψ₀ = 90°, q = 1.5' : 'p₀ = 0.01, Ψ₀ = 90°, q = 3.0'"}}
   }},
  {"mark":{"type":"line","opacity":0},
   "encoding":{
    "x":{"field":"E","type":"quantitative","axis":{"orient":"top","values":[0.07,0.08,0.09,0.1,0.2,0.3,0.4,0.5,0.6,0.7,0.8,0.9,1,2,3,4,5,6,7,8,9,10,20,30,40,50,60,70,80,90,100],"tickSize":{"condition":{"test":"datum.value==0.1||datum.value==1||datum.value==10||datum.value==100","value":-6.5},"value":-3.5},"labels":false,"title":null}},
    "y":{"field":"psi","type":"quantitative","axis":{"orient":"right","values":[60,65,70,75,80,85,90,95,100,105,110,115,120,125,130,135,140,145,150],"tickSize":{"condition":{"test":"datum.value % 10 === 0","value":-6.5},"value":-3.5},"labels":false,"title":null}}
   }}
 ],
 "resolve":{"axis":{"x":"independent","y":"independent"}}
},
{"width":228,"height":188,"title":{"text":"a = 1, θ = 30°","fontWeight":"normal"},"data":{"name":"p4"},
 "transform":[{"fold":["s1","s2","s3","s4","s5","s6"],"as":["series","psi"]}],
 "layer":[
  {"mark":{"type":"line","clip":true},
   "encoding":{
    "x":{"field":"E","type":"quantitative","scale":{"type":"log","domain":[0.069,133],"nice":false},
      "axis":{"orient":"bottom","values":[0.07,0.08,0.09,0.1,0.2,0.3,0.4,0.5,0.6,0.7,0.8,0.9,1,2,3,4,5,6,7,8,9,10,20,30,40,50,60,70,80,90,100],"tickSize":{"condition":{"test":"datum.value==0.1||datum.value==1||datum.value==10||datum.value==100","value":-6.5},"value":-3.5},"labelExpr":"datum.value==0.1 ? '10⁻¹' : datum.value==1 ? '10⁰' : datum.value==10 ? '10¹' : datum.value==100 ? '10²' : ''","title":"E [keV]","titlePadding":6}},
    "y":{"field":"psi","type":"quantitative","scale":{"domain":[60,150],"nice":false,"zero":false},
      "axis":{"orient":"left","values":[60,65,70,75,80,85,90,95,100,105,110,115,120,125,130,135,140,145,150],"tickSize":{"condition":{"test":"datum.value % 10 === 0","value":-6.5},"value":-3.5},"labelExpr":"datum.value % 10 === 0 ? datum.label : ''","title":"Ψᵣ [°]","titleFontSize":15,"titlePadding":5}},
    "color":{"field":"series","type":"nominal","scale":{"domain":["s1","s2","s3","s4","s5","s6"],"range":["#9f5fe6","#9f5fe6","#76d976","#76d976","#f2a55e","#f2a55e"]},"legend":null},
    "strokeDash":{"field":"series","type":"nominal","scale":{"domain":["s1","s2","s3","s4","s5","s6"],"range":[[1,1.3],[1,0],[1,1.3],[1,0],[1,1.3],[1,0]]},"legend":null}
   }},
  {"mark":{"type":"line","opacity":0},
   "encoding":{
    "x":{"field":"E","type":"quantitative","axis":{"orient":"top","values":[0.07,0.08,0.09,0.1,0.2,0.3,0.4,0.5,0.6,0.7,0.8,0.9,1,2,3,4,5,6,7,8,9,10,20,30,40,50,60,70,80,90,100],"tickSize":{"condition":{"test":"datum.value==0.1||datum.value==1||datum.value==10||datum.value==100","value":-6.5},"value":-3.5},"labels":false,"title":null}},
    "y":{"field":"psi","type":"quantitative","axis":{"orient":"right","values":[60,65,70,75,80,85,90,95,100,105,110,115,120,125,130,135,140,145,150],"tickSize":{"condition":{"test":"datum.value % 10 === 0","value":-6.5},"value":-3.5},"labels":false,"title":null}}
   }}
 ],
 "resolve":{"axis":{"x":"independent","y":"independent"}}
},
{"width":224,"height":188,"title":{"text":"a = 1, θ = 60°","fontWeight":"normal"},"data":{"name":"p5"},
 "transform":[{"fold":["s1","s2","s3","s4","s5","s6"],"as":["series","psi"]}],
 "layer":[
  {"mark":{"type":"line","clip":true},
   "encoding":{
    "x":{"field":"E","type":"quantitative","scale":{"type":"log","domain":[0.069,133],"nice":false},
      "axis":{"orient":"bottom","values":[0.07,0.08,0.09,0.1,0.2,0.3,0.4,0.5,0.6,0.7,0.8,0.9,1,2,3,4,5,6,7,8,9,10,20,30,40,50,60,70,80,90,100],"tickSize":{"condition":{"test":"datum.value==0.1||datum.value==1||datum.value==10||datum.value==100","value":-6.5},"value":-3.5},"labelExpr":"datum.value==0.1 ? '10⁻¹' : datum.value==1 ? '10⁰' : datum.value==10 ? '10¹' : datum.value==100 ? '10²' : ''","title":"E [keV]","titlePadding":6}},
    "y":{"field":"psi","type":"quantitative","scale":{"domain":[60,150],"nice":false,"zero":false},
      "axis":{"orient":"left","values":[60,65,70,75,80,85,90,95,100,105,110,115,120,125,130,135,140,145,150],"tickSize":{"condition":{"test":"datum.value % 10 === 0","value":-6.5},"value":-3.5},"labels":false,"title":null}},
    "color":{"field":"series","type":"nominal","scale":{"domain":["s1","s2","s3","s4","s5","s6"],"range":["#9f5fe6","#9f5fe6","#76d976","#76d976","#f2a55e","#f2a55e"]},"legend":null},
    "strokeDash":{"field":"series","type":"nominal","scale":{"domain":["s1","s2","s3","s4","s5","s6"],"range":[[1,1.3],[1,0],[1,1.3],[1,0],[1,1.3],[1,0]]},"legend":null}
   }},
  {"mark":{"type":"line","opacity":0},
   "encoding":{
    "x":{"field":"E","type":"quantitative","axis":{"orient":"top","values":[0.07,0.08,0.09,0.1,0.2,0.3,0.4,0.5,0.6,0.7,0.8,0.9,1,2,3,4,5,6,7,8,9,10,20,30,40,50,60,70,80,90,100],"tickSize":{"condition":{"test":"datum.value==0.1||datum.value==1||datum.value==10||datum.value==100","value":-6.5},"value":-3.5},"labels":false,"title":null}},
    "y":{"field":"psi","type":"quantitative","axis":{"orient":"right","values":[60,65,70,75,80,85,90,95,100,105,110,115,120,125,130,135,140,145,150],"tickSize":{"condition":{"test":"datum.value % 10 === 0","value":-6.5},"value":-3.5},"labels":false,"title":null}}
   }}
 ],
 "resolve":{"axis":{"x":"independent","y":"independent"}}
},
{"width":227,"height":188,"title":{"text":"a = 1, θ = 80°","fontWeight":"normal"},"data":{"name":"p6"},
 "transform":[{"fold":["s1","s2","s3","s4","s5","s6"],"as":["series","psi"]}],
 "layer":[
  {"mark":{"type":"line","clip":true},
   "encoding":{
    "x":{"field":"E","type":"quantitative","scale":{"type":"log","domain":[0.069,133],"nice":false},
      "axis":{"orient":"bottom","values":[0.07,0.08,0.09,0.1,0.2,0.3,0.4,0.5,0.6,0.7,0.8,0.9,1,2,3,4,5,6,7,8,9,10,20,30,40,50,60,70,80,90,100],"tickSize":{"condition":{"test":"datum.value==0.1||datum.value==1||datum.value==10||datum.value==100","value":-6.5},"value":-3.5},"labelExpr":"datum.value==0.1 ? '10⁻¹' : datum.value==1 ? '10⁰' : datum.value==10 ? '10¹' : datum.value==100 ? '10²' : ''","title":"E [keV]","titlePadding":6}},
    "y":{"field":"psi","type":"quantitative","scale":{"domain":[60,150],"nice":false,"zero":false},
      "axis":{"orient":"left","values":[60,65,70,75,80,85,90,95,100,105,110,115,120,125,130,135,140,145,150],"tickSize":{"condition":{"test":"datum.value % 10 === 0","value":-6.5},"value":-3.5},"labels":false,"title":null}},
    "color":{"field":"series","type":"nominal","scale":{"domain":["s1","s2","s3","s4","s5","s6"],"range":["#9f5fe6","#9f5fe6","#76d976","#76d976","#f2a55e","#f2a55e"]},"legend":null},
    "strokeDash":{"field":"series","type":"nominal","scale":{"domain":["s1","s2","s3","s4","s5","s6"],"range":[[1,1.3],[1,0],[1,1.3],[1,0],[1,1.3],[1,0]]},"legend":null}
   }},
  {"mark":{"type":"line","opacity":0},
   "encoding":{
    "x":{"field":"E","type":"quantitative","axis":{"orient":"top","values":[0.07,0.08,0.09,0.1,0.2,0.3,0.4,0.5,0.6,0.7,0.8,0.9,1,2,3,4,5,6,7,8,9,10,20,30,40,50,60,70,80,90,100],"tickSize":{"condition":{"test":"datum.value==0.1||datum.value==1||datum.value==10||datum.value==100","value":-6.5},"value":-3.5},"labels":false,"title":null}},
    "y":{"field":"psi","type":"quantitative","axis":{"orient":"right","values":[60,65,70,75,80,85,90,95,100,105,110,115,120,125,130,135,140,145,150],"tickSize":{"condition":{"test":"datum.value % 10 === 0","value":-6.5},"value":-3.5},"labels":false,"title":null}}
   }}
 ],
 "resolve":{"axis":{"x":"independent","y":"independent"}}
}
]
}
